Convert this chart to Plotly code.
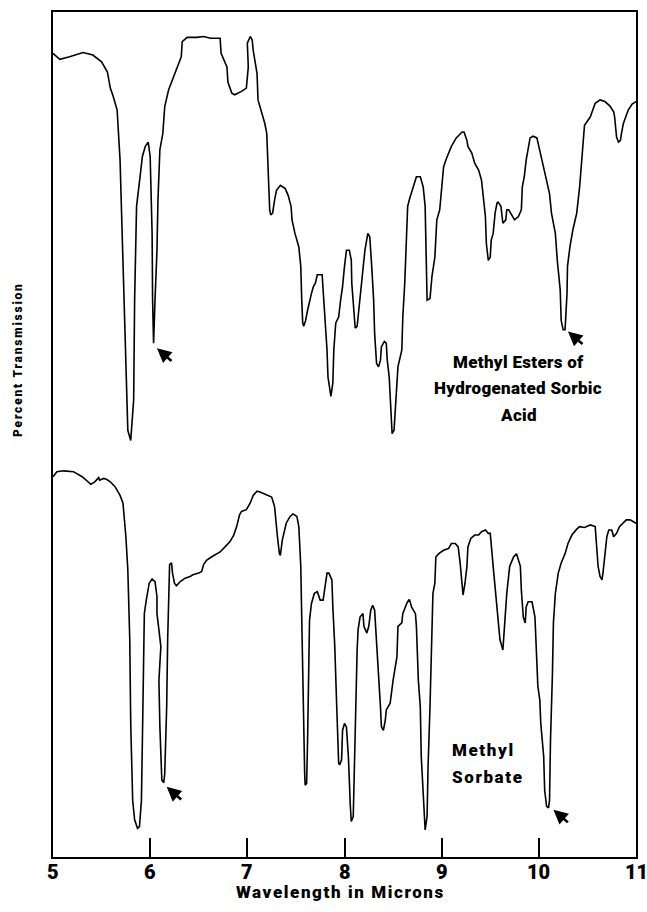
import plotly.graph_objects as go

# Infrared spectra, wavelength in microns vs. transmission (chart units, 0-100 of chart height)
wl_esters = [5.00, 5.07, 5.17, 5.31, 5.41, 5.50, 5.56, 5.59, 5.62, 5.66, 5.69, 5.71, 5.74, 5.77, 5.80,
             5.83, 5.84, 5.86, 5.90, 5.92, 5.95, 5.98, 6.00, 6.02, 6.025, 6.035, 6.05, 6.07, 6.08, 6.10,
             6.13, 6.15, 6.19, 6.24, 6.29, 6.32, 6.33, 6.38, 6.48, 6.55, 6.62, 6.72, 6.73, 6.76, 6.79,
             6.80, 6.84, 6.87, 6.94, 6.99, 7.01, 7.00, 7.03, 7.05, 7.06, 7.10, 7.11, 7.14, 7.18, 7.20,
             7.22, 7.23, 7.24, 7.26, 7.28, 7.30, 7.34, 7.39, 7.42, 7.45, 7.46, 7.49, 7.53, 7.55, 7.56,
             7.57, 7.58, 7.60, 7.62, 7.64, 7.66, 7.68, 7.70, 7.72, 7.77, 7.78, 7.80, 7.82, 7.83, 7.86,
             7.88, 7.89, 7.91, 7.94, 7.96, 7.98, 8.00, 8.02, 8.05, 8.07, 8.075, 8.09, 8.11, 8.13, 8.14,
             8.16, 8.18, 8.21, 8.24, 8.26, 8.28, 8.29, 8.30, 8.31, 8.33, 8.35, 8.37, 8.38, 8.41, 8.43,
             8.44, 8.46, 8.48, 8.49, 8.51, 8.53, 8.55, 8.59, 8.60, 8.62, 8.64, 8.65, 8.67, 8.71, 8.74,
             8.78, 8.81, 8.83, 8.84, 8.85, 8.88, 8.90, 8.93, 8.95, 8.98, 9.00, 9.02, 9.05, 9.10, 9.15,
             9.21, 9.23, 9.26, 9.27, 9.31, 9.34, 9.38, 9.41, 9.43, 9.45, 9.46, 9.48, 9.50, 9.51, 9.53,
             9.55, 9.57, 9.58, 9.61, 9.62, 9.63, 9.66, 9.67, 9.69, 9.72, 9.75, 9.79, 9.82, 9.83, 9.85,
             9.87, 9.89, 9.91, 9.94, 9.98, 10.00, 10.03, 10.05, 10.08, 10.11, 10.13, 10.17, 10.19, 10.22,
             10.23, 10.25, 10.27, 10.29, 10.295, 10.32, 10.35, 10.39, 10.42, 10.46, 10.47, 10.53, 10.58,
             10.63, 10.68, 10.73, 10.77, 10.78, 10.80, 10.82, 10.84, 10.85, 10.87, 10.92, 10.96, 11.00]
tr_esters = [95.1, 94.4, 94.7, 95.2, 94.9, 94.1, 92.9, 91.0, 90.0, 88.4, 82.5, 73.8, 62.0, 50.5, 49.3,
             54.1, 65.9, 77.0, 80.9, 82.9, 84.1, 84.6, 82.9, 73.8, 65.9, 60.8, 65.9, 71.8, 77.7, 83.7,
             85.6, 88.8, 90.8, 92.3, 93.7, 94.7, 96.5, 97.0, 97.0, 97.1, 96.9, 96.9, 95.1, 94.3, 93.5,
             91.7, 90.4, 90.2, 90.6, 91.0, 93.5, 96.3, 97.1, 96.7, 95.5, 92.7, 89.6, 88.4, 86.8, 85.6,
             80.1, 76.6, 76.0, 76.2, 77.7, 78.9, 79.5, 79.1, 78.3, 77.0, 75.4, 73.8, 72.2, 69.9, 65.9,
             63.2, 62.8, 63.5, 64.7, 65.9, 66.7, 67.5, 67.9, 68.9, 68.9, 67.1, 63.9, 60.0, 56.8, 54.5,
             56.1, 60.0, 63.2, 63.9, 65.9, 67.5, 69.9, 71.8, 71.8, 70.6, 67.9, 65.9, 62.6, 62.8, 63.9,
             66.7, 69.1, 71.8, 73.8, 73.4, 69.9, 67.9, 65.9, 62.0, 58.4, 58.0, 58.8, 60.4, 61.0, 60.8,
             58.8, 56.8, 52.1, 50.1, 50.5, 54.1, 58.0, 60.0, 63.9, 67.9, 73.8, 77.0, 77.9, 79.3, 80.5,
             80.5, 79.3, 77.0, 69.9, 65.9, 66.1, 68.7, 71.0, 75.4, 76.6, 79.7, 81.7, 82.7, 84.1, 85.1,
             85.8, 85.8, 84.8, 84.1, 83.3, 82.1, 81.3, 80.1, 77.7, 75.8, 72.6, 70.6, 71.0, 73.0, 73.8,
             76.2, 77.4, 77.5, 77.0, 75.4, 75.0, 75.4, 76.6, 76.6, 76.0, 75.4, 75.8, 76.6, 79.3, 80.5,
             82.5, 84.1, 85.1, 85.3, 85.1, 84.1, 82.5, 81.3, 80.1, 78.5, 76.2, 73.8, 70.6, 67.1,
             63.5, 62.4, 62.4, 66.7, 69.9, 72.2, 74.2, 76.2, 79.3, 84.5, 86.6, 87.6, 89.2,
             89.6, 89.4, 88.9, 88.2, 87.6, 85.2, 84.6, 84.8, 85.6, 86.8, 88.4, 89.1, 89.4]

wl_sorbate = [5.00, 5.04, 5.11, 5.21, 5.30, 5.39, 5.43, 5.47, 5.48, 5.52, 5.55, 5.59, 5.64, 5.69, 5.72,
              5.75, 5.77, 5.79, 5.80, 5.82, 5.84, 5.87, 5.89, 5.91, 5.92, 5.93, 5.94, 5.96, 5.99, 6.02,
              6.05, 6.07, 6.07, 6.09, 6.11, 6.09, 6.10, 6.12, 6.14, 6.15, 6.17, 6.18, 6.19, 6.20, 6.22,
              6.23, 6.25, 6.27, 6.31, 6.36, 6.41, 6.44, 6.50, 6.53, 6.55, 6.58, 6.63, 6.72, 6.77, 6.82,
              6.86, 6.89, 6.92, 6.94, 6.99, 7.03, 7.06, 7.10, 7.13, 7.22, 7.25, 7.28, 7.29, 7.31, 7.33,
              7.34, 7.36, 7.38, 7.40, 7.44, 7.47, 7.51, 7.53, 7.55, 7.56, 7.58, 7.59, 7.595, 7.61, 7.62,
              7.63, 7.64, 7.66, 7.69, 7.72, 7.75, 7.78, 7.82, 7.84, 7.87, 7.88, 7.90, 7.92, 7.94, 7.95,
              7.97, 7.98, 8.00, 8.02, 8.04, 8.06, 8.07, 8.09, 8.10, 8.11, 8.13, 8.14, 8.16, 8.19, 8.20,
              8.23, 8.25, 8.27, 8.29, 8.31, 8.33, 8.35, 8.37, 8.38, 8.40, 8.42, 8.43, 8.47, 8.50, 8.54,
              8.55, 8.59, 8.60, 8.64, 8.66, 8.67, 8.69, 8.73, 8.74, 8.76, 8.78, 8.79, 8.81, 8.83, 8.85,
              8.86, 8.88, 8.90, 8.91, 8.93, 8.94, 8.97, 9.02, 9.07, 9.10, 9.14, 9.17, 9.19, 9.21, 9.22,
              9.24, 9.26, 9.27, 9.30, 9.34, 9.38, 9.41, 9.45, 9.48, 9.50, 9.53, 9.57, 9.60, 9.63, 9.64,
              9.67, 9.70, 9.74, 9.77, 9.81, 9.82, 9.84, 9.86, 9.87, 9.89, 9.93, 9.96, 9.98, 9.99, 10.01,
              10.02, 10.05, 10.06, 10.08, 10.10, 10.11, 10.12, 10.14, 10.15, 10.17, 10.20, 10.23, 10.27,
              10.30, 10.34, 10.39, 10.42, 10.47, 10.53, 10.58, 10.59, 10.61, 10.63, 10.65, 10.66, 10.68,
              10.70, 10.72, 10.75, 10.77, 10.80, 10.83, 10.87, 10.90, 10.94, 11.00]
tr_sorbate = [45.0, 45.6, 45.7, 45.6, 45.0, 44.1, 44.4, 44.9, 44.6, 44.8, 44.7, 44.4, 43.8, 42.8, 41.9,
              37.9, 34.0, 25.7, 15.8, 6.7, 4.4, 3.4, 3.6, 6.7, 13.8, 20.9, 28.8, 30.4, 32.4, 32.9,
              32.6, 30.8, 28.8, 26.9, 24.9, 20.9, 15.4, 9.1, 8.8, 9.9, 17.8, 25.7, 31.6, 34.6, 34.8,
              33.6, 32.4, 32.1, 32.6, 33.0, 33.2, 33.4, 33.6, 33.8, 34.6, 35.1, 35.5, 36.1, 36.7, 37.3,
              38.1, 39.1, 40.5, 40.9, 41.1, 41.9, 42.8, 43.3, 43.2, 42.8, 42.6, 41.5, 39.9, 37.9, 35.9,
              35.7, 37.5, 38.5, 39.5, 40.3, 40.6, 40.3, 39.1, 34.4, 27.3, 17.8, 9.9, 8.5, 8.7, 13.8,
              21.7, 28.0, 30.0, 31.2, 31.4, 30.4, 30.4, 33.6, 33.6, 32.8, 29.6, 24.9, 17.8, 11.1, 10.9,
              11.5, 15.0, 15.8, 15.4, 11.9, 6.0, 4.2, 4.8, 9.9, 17.8, 24.5, 26.9, 28.4, 28.8, 27.3,
              26.5, 27.3, 29.2, 29.8, 29.2, 25.7, 21.7, 17.8, 15.4, 15.0, 16.2, 17.4, 18.2, 20.9, 23.7,
              27.3, 27.7, 28.8, 30.0, 30.4, 30.4, 29.6, 28.8, 27.3, 20.9, 17.8, 11.9, 6.7, 3.2, 4.8,
              10.7, 17.8, 27.7, 31.2, 32.4, 35.5, 35.9, 36.3, 36.5, 37.1, 37.1, 36.7, 34.8, 32.0, 31.0,
              32.4, 34.4, 36.7, 37.7, 38.1, 38.1, 38.5, 38.7, 38.3, 38.3, 34.4, 29.6, 25.7, 24.5, 26.5,
              31.2, 34.4, 35.5, 35.9, 34.4, 31.6, 28.4, 27.7, 29.6, 30.2, 30.2, 28.4, 23.7, 20.2, 18.6,
              15.8, 11.9, 7.9, 6.0, 5.8, 6.7, 13.8, 21.7, 27.7, 31.2, 33.6, 34.8, 35.9,
              37.1, 38.1, 38.8, 39.1, 39.0, 39.3, 39.1, 37.5, 34.4, 33.2, 32.8, 33.6, 35.5,
              37.9, 38.7, 38.7, 37.9, 38.3, 39.1, 39.5, 39.9, 39.9, 39.5]

# Bands marked with arrows: (wavelength, transmission)
arrow_wl = [6.07, 10.30, 6.17, 10.15]
arrow_tr = [60.2, 62.2, 8.3, 5.6]

tick_vals = [5, 6, 7, 8, 9, 10, 11]
tick_text = ["5", "6", "7", "8", "9", "10", "11"]

FONT = "Roboto, Liberation Sans, Arial, sans-serif"
HEAVY = 900

fig = go.Figure()
for wl, tr in ((wl_esters, tr_esters), (wl_sorbate, tr_sorbate)):
    fig.add_trace(go.Scatter(x=wl, y=tr, mode="lines",
                             line=dict(color="black", width=1.6),
                             showlegend=False, hoverinfo="skip"))

for wx, ty in zip(arrow_wl, arrow_tr):
    fig.add_annotation(x=wx, y=ty, text="", showarrow=True, arrowhead=2,
                       arrowsize=1.1, arrowwidth=2.6, arrowcolor="black",
                       ax=16, ay=14)


def spaced(s, px):
    return f'<span style="letter-spacing:{px}px">{s}</span>'


label_font = dict(family=FONT, size=17, color="black", weight=HEAVY)
for line, ty in (("Methyl Esters of", 58.6), ("Hydrogenated Sorbic", 55.5), ("Acid", 52.3)):
    fig.add_annotation(x=9.79, y=ty, text=spaced(line, 0.3), showarrow=False,
                       font=label_font, xanchor="center", yanchor="middle")
for line, ty in (("Methyl", 12.7), ("Sorbate", 9.5)):
    fig.add_annotation(x=9.09, y=ty, text=spaced(line, 1.6), showarrow=False,
                       font=label_font, xanchor="left", yanchor="middle")

# Wavelength labels under the tick marks
for tv, tt in zip(tick_vals, tick_text):
    fig.add_annotation(x=tv, xref="x", y=0, yref="paper", yshift=-15,
                       text=tt, showarrow=False, borderpad=0,
                       font=dict(family=FONT, size=20, color="black", weight=HEAVY),
                       xanchor="center", yanchor="middle")

fig.add_annotation(xref="paper", yref="paper", x=(340 - 53) / 583, y=0, yshift=-(892 - 857),
                   text=spaced("Wavelength in Microns", 1.6), showarrow=False, borderpad=0,
                   font=dict(family=FONT, size=17, color="black", weight=HEAVY),
                   xanchor="center", yanchor="middle")
fig.add_annotation(xref="paper", yref="paper", x=0, xshift=-(53 - 18), y=(857 - 360) / 845,
                   text=spaced("Percent Transmission", 1.8), showarrow=False, textangle=-90,
                   font=dict(family=FONT, size=12, color="black", weight=HEAVY),
                   xanchor="center", yanchor="middle")

fig.update_xaxes(range=[5, 11], tickvals=tick_vals, showticklabels=False,
                 ticks="inside", ticklen=19, tickwidth=1.5, tickcolor="black",
                 showline=True, linecolor="black", linewidth=2, mirror=True,
                 showgrid=False, zeroline=False, automargin=False)
fig.update_yaxes(range=[0, 100], showticklabels=False, ticks="",
                 showline=True, linecolor="black", linewidth=2, mirror=True,
                 showgrid=False, zeroline=False, automargin=False)

fig.update_layout(width=647, height=912, margin=dict(l=53, r=11, t=12, b=55),
                  paper_bgcolor="white", plot_bgcolor="white")

fig.write_html("out.html")
